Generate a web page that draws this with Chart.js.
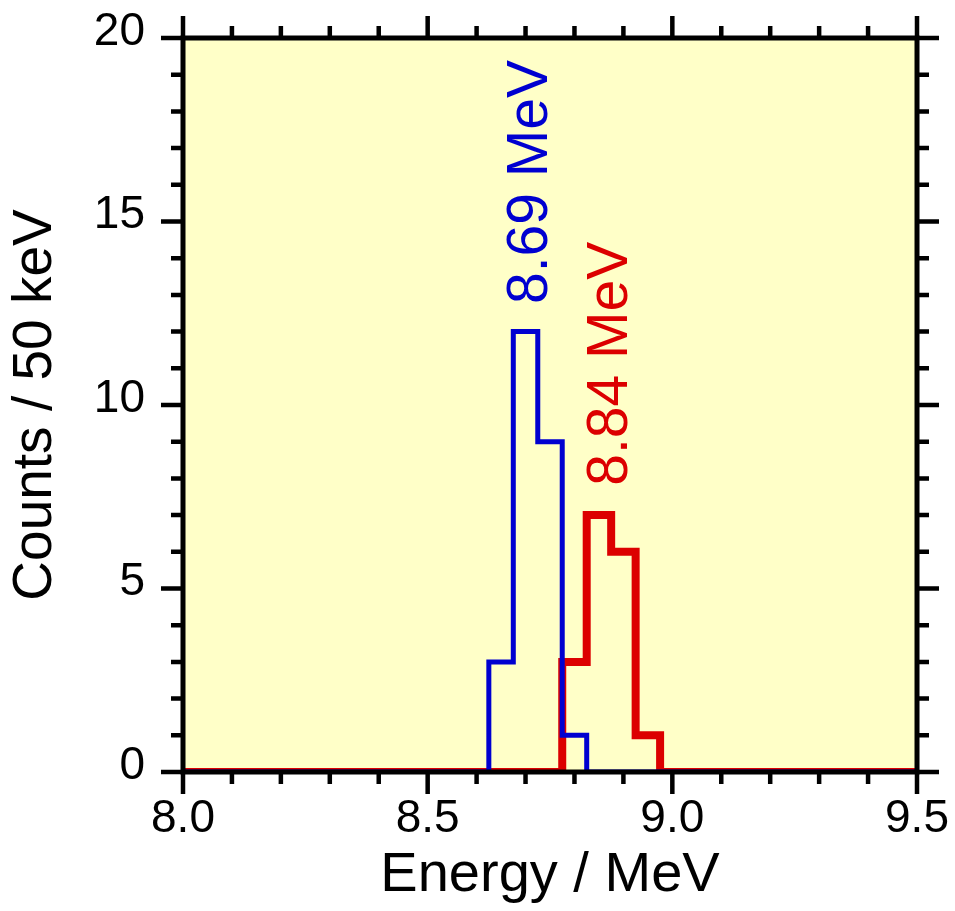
<!DOCTYPE html>
<html>
<head>
<meta charset="utf-8">
<script src="https://cdn.jsdelivr.net/npm/chart.js@4.4.1/dist/chart.umd.min.js"></script>
<style>
  html, body { margin: 0; padding: 0; background: #fff; }
  #wrap { width: 955px; height: 911px; }
</style>
</head>
<body>
<div id="wrap"><canvas id="chart"></canvas></div>
<script>
// 50 keV bins: left edge of each bin (MeV) and the counts in it
const binWidth = 0.05;
const blueBinStarts = [8.625, 8.675, 8.725, 8.775];
const blueCounts = [3, 12, 9, 1];
const redBinStarts = [8.775, 8.825, 8.875, 8.925];
const redCounts = [3, 7, 6, 1];

const xRange = [8.0, 9.5];
const yRange = [0, 20];
const xTickValues = [8.0, 8.5, 9.0, 9.5];
const xTickLabels = ['8.0', '8.5', '9.0', '9.5'];
const yTickValues = [0, 5, 10, 15, 20];
const yTickLabels = ['0', '5', '10', '15', '20'];

// peak labels, anchored at (energy, counts) where the text starts
const peakLabels = [
  { text: '8.69 MeV', x: 8.711, y: 12.75, color: '#0000d0' },
  { text: '8.84 MeV', x: 8.876, y: 7.8, color: '#dc0000' },
];

const FONT = "'Liberation Sans', Arial, Helvetica, sans-serif";

// turn bins into stepped points (value holds from a point until the next one)
function stepPoints(starts, counts) {
  const pts = [{ x: xRange[0], y: 0 }];
  starts.forEach((s, i) => pts.push({ x: s, y: counts[i] }));
  pts.push({ x: starts[starts.length - 1] + binWidth, y: 0 });
  pts.push({ x: xRange[1], y: 0 });
  return pts;
}

const framePlugin = {
  id: 'frame',
  beforeDraw(chart) {
    const { ctx, chartArea: a } = chart;
    ctx.save();
    ctx.fillStyle = '#ffffc8';
    ctx.fillRect(a.left, a.top, a.right - a.left, a.bottom - a.top);
    ctx.restore();
  },
  afterDatasetsDraw(chart) {
    const { ctx, chartArea: a } = chart;
    const xs = chart.scales.x, ys = chart.scales.y;
    const major = 22, minor = 12;
    ctx.save();
    ctx.strokeStyle = '#000';
    ctx.lineCap = 'butt';
    ctx.lineWidth = 4.5;
    ctx.beginPath();
    // x ticks every 0.1 MeV, long ones every 0.5
    for (let i = 0; i <= 15; i++) {
      const px = xs.getPixelForValue(xRange[0] + i * 0.1);
      const len = i % 5 === 0 ? major : minor;
      ctx.moveTo(px, a.bottom); ctx.lineTo(px, a.bottom + len);
      ctx.moveTo(px, a.top); ctx.lineTo(px, a.top - len);
    }
    // y ticks every count, long ones every 5
    for (let i = 0; i <= 20; i++) {
      const py = ys.getPixelForValue(i);
      const len = i % 5 === 0 ? major : minor;
      ctx.moveTo(a.left, py); ctx.lineTo(a.left - len, py);
      ctx.moveTo(a.right, py); ctx.lineTo(a.right + len, py);
    }
    ctx.stroke();
    ctx.lineWidth = 5;
    ctx.lineJoin = 'miter';
    ctx.strokeRect(a.left, a.top, a.right - a.left, a.bottom - a.top);

    // rotated peak labels
    ctx.font = '57px ' + FONT;
    ctx.textAlign = 'left';
    ctx.textBaseline = 'middle';
    peakLabels.forEach(l => {
      ctx.save();
      ctx.translate(xs.getPixelForValue(l.x), ys.getPixelForValue(l.y));
      ctx.rotate(-Math.PI / 2);
      ctx.fillStyle = l.color;
      ctx.fillText(l.text, 0, 0);
      ctx.restore();
    });
    ctx.restore();
  }
};

new Chart(document.getElementById('chart'), {
  type: 'line',
  data: {
    datasets: [
      {
        label: 'blue',
        data: stepPoints(blueBinStarts, blueCounts),
        borderColor: '#0000d0',
        borderWidth: 5,
        stepped: true,
        pointRadius: 0,
        fill: false,
        borderJoinStyle: 'miter',
      },
      {
        label: 'red',
        data: stepPoints(redBinStarts, redCounts),
        borderColor: '#dc0000',
        borderWidth: 8,
        stepped: true,
        pointRadius: 0,
        fill: false,
        borderJoinStyle: 'miter',
      },
    ],
  },
  options: {
    responsive: true,
    maintainAspectRatio: false,
    animation: false,
    layout: { padding: { left: 0, top: 38, right: 38, bottom: 0 } },
    plugins: { legend: { display: false }, tooltip: { enabled: false } },
    scales: {
      x: {
        type: 'linear',
        min: xRange[0],
        max: xRange[1],
        grid: { display: false, drawTicks: false },
        border: { display: false },
        afterBuildTicks: s => { s.ticks = xTickValues.map(v => ({ value: v })); },
        afterFit: s => { s.height = 139; s.paddingLeft = 0; s.paddingRight = 0; },
        ticks: {
          color: '#000',
          font: { family: FONT, size: 46 },
          padding: 20,
          maxRotation: 0,
          autoSkip: false,
          callback: (v, i) => xTickLabels[i],
        },
        title: {
          display: true,
          text: 'Energy / MeV',
          color: '#000',
          font: { family: FONT, size: 56 },
          padding: { top: 0, bottom: 2 },
        },
      },
      y: {
        type: 'linear',
        min: yRange[0],
        max: yRange[1],
        grid: { display: false, drawTicks: false },
        border: { display: false },
        afterBuildTicks: s => { s.ticks = yTickValues.map(v => ({ value: v })); },
        afterFit: s => { s.width = 183; s.paddingTop = 0; s.paddingBottom = 0; },
        ticks: {
          color: '#000',
          font: { family: FONT, size: 46 },
          padding: 38,
          labelOffset: -6,
          autoSkip: false,
          callback: (v, i) => yTickLabels[i],
        },
        title: {
          display: true,
          text: 'Counts / 50 keV',
          color: '#000',
          font: { family: FONT, size: 55 },
          padding: { top: 3, bottom: 0 },
        },
      },
    },
  },
  plugins: [framePlugin],
});
</script>
</body>
</html>
